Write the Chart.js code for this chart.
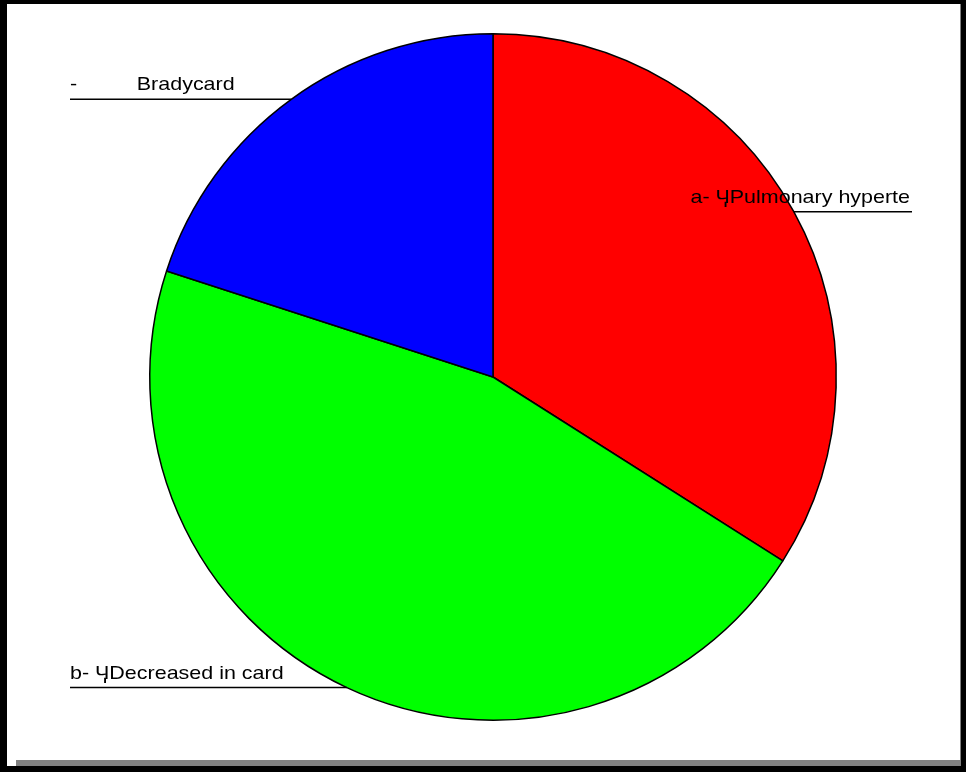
<!DOCTYPE html>
<html lang="en">
<head>
    <meta charset="UTF-8">
    <title>Pie chart</title>
    <style>
        * {
            margin: 0;
            padding: 0;
            box-sizing: border-box;
        }

        body {
            background: white;
            width: 966px;
            height: 772px;
            overflow: hidden;
        }

        .chart-box {
            position: relative;
            width: 966px;
            height: 772px;
        }
    </style>
    <script src="https://cdn.jsdelivr.net/npm/chart.js"></script>
</head>
<body>

    <div class="chart-box">
        <canvas id="pieChart" width="966" height="772"></canvas>
    </div>

    <script>
        // Slice data (clockwise from 12 o'clock)
        const labels = ['a- \u04CBPulmonary hyperte', 'b- \u04CBDecreased in card', '-          Bradycard'];
        const values = [34, 46, 20];
        const colors = ['#ff0000', '#00ff00', '#0000ff'];

        // Where each label's underline ends (x) and which side the text sits on
        const labelEndX = [912, 70, 70];

        // Frame around the picture plus the grey strip at the bottom
        const framePlugin = {
            id: 'frame',
            beforeDraw(chart) {
                const ctx = chart.ctx;
                ctx.save();
                ctx.fillStyle = '#fff';
                ctx.fillRect(0, 0, 966, 772);
                ctx.fillStyle = '#000';
                ctx.fillRect(0, 0, 966, 4);      // top
                ctx.fillRect(0, 0, 7, 772);      // left
                ctx.fillRect(961, 0, 5, 772);    // right
                ctx.fillRect(0, 766, 966, 6);    // bottom
                ctx.fillStyle = '#808080';
                ctx.fillRect(16, 760, 945, 6);
                ctx.fillRect(960, 4, 1, 762);
                ctx.restore();
            }
        };

        // Labels with horizontal leader lines from the middle of each slice edge
        const labelPlugin = {
            id: 'sliceLabels',
            afterDraw(chart) {
                const ctx = chart.ctx;
                const arcs = chart.getDatasetMeta(0).data;
                ctx.save();
                ctx.font = '19px "Liberation Sans", Arial, sans-serif';
                ctx.fillStyle = '#000';
                ctx.strokeStyle = '#000';
                ctx.lineWidth = 1.5;
                ctx.textBaseline = 'alphabetic';
                arcs.forEach((arc, i) => {
                    const mid = (arc.startAngle + arc.endAngle) / 2;
                    const px = arc.x + Math.cos(mid) * arc.outerRadius;
                    const py = arc.y + Math.sin(mid) * arc.outerRadius;
                    const ex = labelEndX[i];

                    ctx.beginPath();
                    ctx.moveTo(px, py);
                    ctx.lineTo(ex, py);
                    ctx.stroke();

                    // text is a bit wider than normal Arial, so stretch it
                    const sx = 1.13;
                    const w = ctx.measureText(labels[i]).width * sx;
                    const tx = ex > px ? ex - w - 2 : ex;
                    ctx.save();
                    ctx.translate(tx, py - 9);
                    ctx.scale(sx, 1);
                    ctx.textAlign = 'left';
                    ctx.fillText(labels[i], 0, 0);
                    ctx.restore();
                });
                ctx.restore();
            }
        };

        const pieCtx = document.getElementById('pieChart').getContext('2d');
        const pieChart = new Chart(pieCtx, {
            type: 'pie',
            data: {
                labels: labels,
                datasets: [{
                    data: values,
                    backgroundColor: colors,
                    borderColor: '#000',
                    borderWidth: 1.5
                }]
            },
            options: {
                responsive: false,
                animation: false,
                layout: {
                    padding: { top: 33, bottom: 51, left: 148, right: 128 }
                },
                plugins: {
                    legend: { display: false },
                    tooltip: { enabled: false }
                }
            },
            plugins: [framePlugin, labelPlugin]
        });
    </script>

</body>
</html>
